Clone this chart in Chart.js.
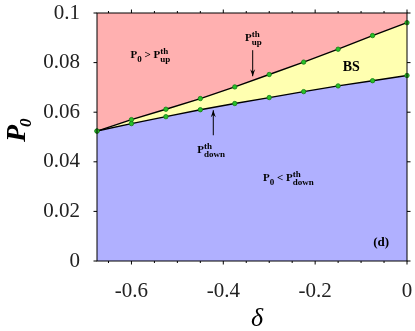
<!DOCTYPE html>
<html>
<head>
<meta charset="utf-8">
<script src="https://cdn.jsdelivr.net/npm/chart.js@4"></script>
<style>
  body { margin: 0; background: #fff; }
  #wrap { width: 415px; height: 331px; }
</style>
</head>
<body>
<div id="wrap"><canvas id="myChartPhase"></canvas></div>
<script>
// threshold curves
var delta = [-0.675, -0.6, -0.525, -0.45, -0.375, -0.3, -0.225, -0.15, -0.075, 0];
var pUp = [0.0524, 0.0570, 0.0612, 0.0655, 0.0702, 0.0752, 0.0802, 0.0854, 0.0909, 0.0961];
var pDown = [0.0524, 0.0554, 0.0582, 0.0610, 0.0635, 0.0659, 0.0683, 0.0706, 0.0727, 0.0748];
var xTicks = [-0.6, -0.4, -0.2, 0];
var xMinor = [-0.65, -0.55, -0.5, -0.45, -0.35, -0.3, -0.25, -0.15, -0.1, -0.05];
var yTicks = [0, 0.02, 0.04, 0.06, 0.08, 0.1];

function pts(ys) {
  return delta.map(function (x, i) { return { x: x, y: ys[i] }; });
}

var SERIF = '"Liberation Serif", "DejaVu Serif", serif';

// text with sub/superscripts: parts are strings or {sup, sub}
function rich(ctx, x, y, parts, size) {
  var cx = x;
  parts.forEach(function (p) {
    if (typeof p === "string") {
      ctx.font = "bold " + size + "px " + SERIF;
      ctx.fillText(p, cx, y);
      cx += ctx.measureText(p).width;
    } else {
      var s = Math.round(size * 0.8);
      ctx.font = "bold " + s + "px " + SERIF;
      var w = 0;
      if (p.sup) { ctx.fillText(p.sup, cx, y - size * 0.4); w = ctx.measureText(p.sup).width; }
      if (p.sub) { ctx.fillText(p.sub, cx, y + size * 0.36); w = Math.max(w, ctx.measureText(p.sub).width); }
      cx += w;
    }
  });
}

function arrow(ctx, x, y0, y1) {
  ctx.beginPath();
  ctx.moveTo(x, y0);
  ctx.lineTo(x, y1);
  ctx.stroke();
  var d = y1 > y0 ? -1 : 1;
  ctx.beginPath();
  ctx.moveTo(x - 2.5, y1 + d * 7);
  ctx.lineTo(x, y1);
  ctx.lineTo(x + 2.5, y1 + d * 7);
  ctx.lineTo(x, y1 + d * 4.5);
  ctx.closePath();
  ctx.fill();
}

var framePlugin = {
  id: "frame",
  afterDraw: function (chart) {
    var ctx = chart.ctx;
    var a = chart.chartArea;
    var sx = chart.scales.x, sy = chart.scales.y;
    ctx.save();
    ctx.strokeStyle = "#000";
    ctx.fillStyle = "#000";
    ctx.lineWidth = 1;
    ctx.strokeRect(a.left, a.top, a.right - a.left, a.bottom - a.top);

    // outward ticks on all four sides
    ctx.beginPath();
    xTicks.forEach(function (v) {
      var px = sx.getPixelForValue(v);
      ctx.moveTo(px, a.bottom); ctx.lineTo(px, a.bottom + 3.5);
      ctx.moveTo(px, a.top); ctx.lineTo(px, a.top - 3.5);
    });
    xMinor.forEach(function (v) {
      var px = sx.getPixelForValue(v);
      ctx.moveTo(px, a.bottom); ctx.lineTo(px, a.bottom + 2);
      ctx.moveTo(px, a.top); ctx.lineTo(px, a.top - 2);
    });
    yTicks.forEach(function (v) {
      var py = sy.getPixelForValue(v);
      ctx.moveTo(a.left, py); ctx.lineTo(a.left - 3.5, py);
      ctx.moveTo(a.right, py); ctx.lineTo(a.right + 3.5, py);
    });
    ctx.stroke();

    // region labels
    ctx.textBaseline = "alphabetic";
    ctx.textAlign = "left";
    rich(ctx, sx.getPixelForValue(-0.602), sy.getPixelForValue(0.0817),
      ["P", { sub: "0" }, " > P", { sup: "th", sub: "up" }], 11);
    rich(ctx, sx.getPixelForValue(-0.3527), sy.getPixelForValue(0.0886),
      ["P", { sup: "th", sub: "up" }], 11);
    rich(ctx, sx.getPixelForValue(-0.4567), sy.getPixelForValue(0.0434),
      ["P", { sup: "th", sub: "down" }], 11);
    rich(ctx, sx.getPixelForValue(-0.3134), sy.getPixelForValue(0.0321),
      ["P", { sub: "0" }, " < P", { sup: "th", sub: "down" }], 11);
    ctx.font = "bold 14px " + SERIF;
    ctx.textAlign = "center";
    ctx.textBaseline = "middle";
    ctx.fillText("BS", sx.getPixelForValue(-0.1215), sy.getPixelForValue(0.0782));
    ctx.textAlign = "left";
    ctx.textBaseline = "alphabetic";
    ctx.font = "bold 13px " + SERIF;
    ctx.fillText("(d)", sx.getPixelForValue(-0.0735), sy.getPixelForValue(0.0059));

    // arrows to the threshold curves
    arrow(ctx, sx.getPixelForValue(-0.336), sy.getPixelForValue(0.085), sy.getPixelForValue(0.0745));
    arrow(ctx, sx.getPixelForValue(-0.4218), sy.getPixelForValue(0.0507), sy.getPixelForValue(0.0608));

    // axis titles
    ctx.font = "italic 26px " + SERIF;
    ctx.textAlign = "center";
    ctx.textBaseline = "alphabetic";
    ctx.fillText("\u03b4", (a.left + a.right) / 2 + 5, 326);

    ctx.translate(25, 142);
    ctx.rotate(-Math.PI / 2);
    ctx.textAlign = "left";
    ctx.font = "bold italic 28px " + SERIF;
    ctx.fillText("P", 0, 0);
    var w = ctx.measureText("P").width;
    ctx.font = "bold italic 17px " + SERIF;
    ctx.fillText("0", w - 2, 6);
    ctx.restore();
  }
};

var chPhase = document.getElementById("myChartPhase").getContext("2d");

var myChartPhase = new Chart(chPhase, {
  type: "line",
  data: {
    datasets: [
      {
        label: "P_down",
        data: pts(pDown),
        borderColor: "#000",
        borderWidth: 1.4,
        backgroundColor: "rgba(176, 176, 255, 1)",
        fill: "origin",
        pointRadius: 2.2,
        pointBackgroundColor: "#27c127",
        pointBorderColor: "#157a15",
        pointBorderWidth: 0.8,
        tension: 0,
        clip: false,
      },
      {
        label: "P_up",
        data: pts(pUp),
        borderColor: "#000",
        borderWidth: 1.4,
        backgroundColor: "rgba(255, 255, 176, 1)",
        fill: "-1",
        pointRadius: 2.2,
        pointBackgroundColor: "#27c127",
        pointBorderColor: "#157a15",
        pointBorderWidth: 0.8,
        tension: 0,
        clip: false,
      },
      {
        label: "above",
        data: pts(pUp),
        borderWidth: 0,
        backgroundColor: "rgba(255, 176, 176, 1)",
        fill: "end",
        pointRadius: 0,
        tension: 0,
      },
    ],
  },
  options: {
    responsive: true,
    maintainAspectRatio: false,
    animation: false,
    layout: { padding: { top: 13, right: 8, left: 0, bottom: 0 } },
    plugins: {
      legend: { display: false },
      tooltip: { enabled: false },
      filler: { drawTime: "beforeDatasetsDraw" },
    },
    scales: {
      x: {
        type: "linear",
        min: -0.675,
        max: 0,
        grid: { display: false },
        border: { display: false },
        afterBuildTicks: function (s) { s.ticks = xTicks.map(function (v) { return { value: v }; }); },
        afterFit: function (s) { s.height = 70; s.paddingLeft = 0; s.paddingRight = 0; },
        ticks: {
          color: "#222",
          padding: 10,
          maxRotation: 0,
          font: { family: SERIF, size: 21 },
          callback: function (v) { return String(+v.toFixed(2)); },
        },
      },
      y: {
        type: "linear",
        min: 0,
        max: 0.1,
        grid: { display: false },
        border: { display: false },
        afterBuildTicks: function (s) { s.ticks = yTicks.map(function (v) { return { value: v }; }); },
        afterFit: function (s) { s.width = 97; s.paddingTop = 0; s.paddingBottom = 0; },
        ticks: {
          color: "#222",
          padding: 9,
          font: { family: SERIF, size: 21 },
          callback: function (v) { return String(+v.toFixed(2)); },
        },
      },
    },
  },
  plugins: [framePlugin],
});
</script>
</body>
</html>
